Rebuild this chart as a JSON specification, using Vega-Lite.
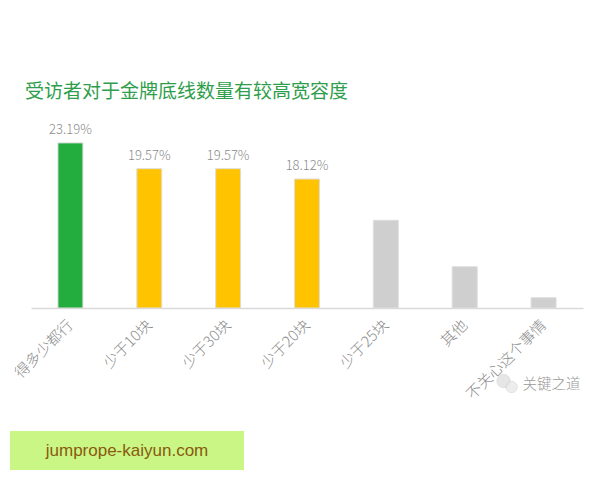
{
  "$schema": "https://vega.github.io/schema/vega-lite/v6.json",
  "padding": {"left": 10, "top": 82, "right": 17, "bottom": 10},
  "autosize": {"type": "pad"},
  "background": "#ffffff",
  "config": {"font": "Noto Sans CJK SC", "view": {"stroke": null}, "concat": {"spacing": 29}},
  "datasets": {
    "main": [
      {"category": "得多少都行", "share": 23.19, "label": "23.19%", "group": "top"},
      {"category": "少于10块", "share": 19.57, "label": "19.57%", "group": "mid"},
      {"category": "少于30块", "share": 19.57, "label": "19.57%", "group": "mid"},
      {"category": "少于20块", "share": 18.12, "label": "18.12%", "group": "mid"},
      {"category": "少于25块", "share": 12.32, "group": "rest"},
      {"category": "其他", "share": 5.8, "group": "rest"},
      {"category": "不关心这个事情", "share": 1.45, "group": "rest"}
    ]
  },
  "vconcat": [
    {
      "width": 573,
      "height": 178,
      "title": {"text": "受访者对于金牌底线数量有较高宽容度", "anchor": "start", "frame": "group", "dx": 15, "fontSize": 19, "fontWeight": "normal", "color": "#2f9e4c", "offset": 22},
      "data": {"name": "main"},
      "encoding": {
        "x": {"field": "category", "type": "nominal", "sort": null, "title": null,
          "scale": {"range": [21, 573], "paddingInner": 0.683, "paddingOuter": 0.3415},
          "axis": {"labelAngle": -45, "labelAlign": "right", "labelBaseline": "middle", "labelFontSize": 15, "labelFontWeight": 300, "labelColor": "#8c8c8c", "labelPadding": 14, "ticks": false, "domainColor": "#d9d9d9", "domainWidth": 1.5, "grid": false, "labelOverlap": false, "labelLimit": 0}},
        "y": {"field": "share", "type": "quantitative", "scale": {"domain": [0, 25]}, "axis": null}
      },
      "layer": [
        {"mark": {"type": "bar", "stroke": "#dedede", "strokeWidth": 1},
         "encoding": {"color": {"field": "group", "type": "nominal", "legend": null,
           "scale": {"domain": ["top", "mid", "rest"], "range": ["#22ad3e", "#ffc300", "#cfcfcf"]}}}},
        {"transform": [{"filter": "isValid(datum.label)"}],
         "mark": {"type": "text", "baseline": "bottom", "dy": -6, "fontSize": 13, "fontWeight": 300, "color": "#8c8c8c"},
         "encoding": {"text": {"field": "label"}}},
        {"data": {"values": [{"category": "不关心这个事情", "share": 0}]},
         "mark": {"type": "point", "filled": true, "size": 180, "color": "#dcdcdc", "stroke": "#c4c4c4", "strokeWidth": 0.6, "xOffset": -40, "yOffset": 73}},
        {"data": {"values": [{"category": "不关心这个事情", "share": 0}]},
         "mark": {"type": "point", "filled": true, "size": 130, "color": "#e6e6e6", "stroke": "#c4c4c4", "strokeWidth": 0.6, "xOffset": -32, "yOffset": 79}},
        {"data": {"values": [{"category": "不关心这个事情", "share": 0, "brand": "关键之道"}]},
         "mark": {"type": "text", "align": "left", "baseline": "middle", "dx": -21, "dy": 77, "fontSize": 14.5, "fontWeight": 300, "color": "#9a9a9a"},
         "encoding": {"text": {"field": "brand"}}}
      ]
    },
    {
      "width": 234,
      "height": 39,
      "view": {"fill": "#c9f684", "stroke": null},
      "data": {"values": [{"site": "jumprope-kaiyun.com"}]},
      "mark": {"type": "text", "fontSize": 17, "font": "Liberation Sans", "color": "#8a5a10"},
      "encoding": {"text": {"field": "site"}}
    }
  ]
}
